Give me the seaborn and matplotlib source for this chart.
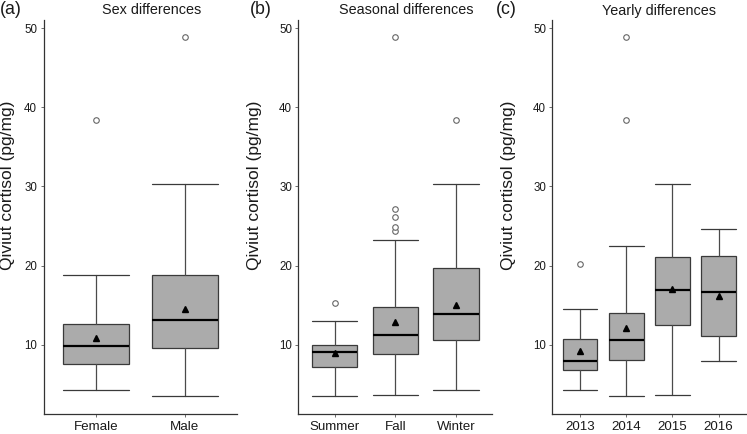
import numpy as np
import matplotlib
matplotlib.use('Agg')
import matplotlib.pyplot as plt
import seaborn as sns

sns.set_style('white')
plt.rcParams['font.family'] = ['Liberation Sans', 'DejaVu Sans']

#%% Data

# (a) sex
sex_groups = ['Female', 'Male']
sex_lo = [4.3, 3.5]
sex_q1 = [7.6, 9.6]
sex_med = [9.8, 13.1]
sex_q3 = [12.65, 18.8]
sex_hi = [18.8, 30.3]
sex_mean = [10.9, 14.5]
sex_out = [[38.4], [48.9]]

# (b) season
season_groups = ['Summer', 'Fall', 'Winter']
season_lo = [3.5, 3.6, 4.3]
season_q1 = [7.2, 8.85, 10.55]
season_med = [9.1, 11.25, 13.85]
season_q3 = [10.0, 14.75, 19.7]
season_hi = [12.95, 23.25, 30.3]
season_mean = [8.95, 12.9, 15.0]
season_out = [[15.25], [24.35, 24.9, 26.2, 27.15, 48.9], [38.4]]

# (c) year
year_groups = ['2013', '2014', '2015', '2016']
year_lo = [4.3, 3.5, 3.6, 7.95]
year_q1 = [6.85, 8.0, 12.55, 11.1]
year_med = [7.9, 10.65, 16.9, 16.6]
year_q3 = [10.75, 14.05, 21.05, 21.25]
year_hi = [14.5, 22.5, 30.3, 24.6]
year_mean = [9.25, 12.1, 17.1, 16.1]
year_out = [[20.15], [38.4, 48.9], [], []]

yticks = [10, 20, 30, 40, 50]


def make_stats(groups, lo, q1, med, q3, hi, mean, out):
    """Builds the list of dicts that Axes.bxp wants."""
    stats = []
    for i, g in enumerate(groups):
        stats.append({'label': g, 'whislo': lo[i], 'q1': q1[i], 'med': med[i],
                      'q3': q3[i], 'whishi': hi[i], 'mean': mean[i],
                      'fliers': np.array(out[i])})
    return stats


def draw_panel(ax, stats):
    n = len(stats)
    ax.bxp(stats, positions=np.arange(1, n + 1), widths=0.75, capwidths=0.75,
           showmeans=True, patch_artist=True,
           boxprops=dict(facecolor='#ababab', edgecolor='#3a3a3a', linewidth=0.9),
           whiskerprops=dict(color='#4a4a4a', linewidth=0.9),
           capprops=dict(color='#3a3a3a', linewidth=0.9),
           medianprops=dict(color='black', linewidth=1.6),
           meanprops=dict(marker='^', markerfacecolor='black', markeredgecolor='black',
                          markersize=5),
           flierprops=dict(marker='o', markerfacecolor='white', markeredgecolor='#666666',
                           markersize=4, markeredgewidth=0.8))
    ax.set_xlim(0.4, n + 0.6)
    ax.set_ylim(1.2, 51.1)
    ax.set_yticks(yticks)
    ax.tick_params(axis='y', labelsize=8.3, length=2.5, width=0.6, color='#555555',
                   labelcolor='#1a1a1a', pad=2, left=True)
    ax.tick_params(axis='x', labelsize=9.6, length=2.5, width=0.6, color='#555555',
                   labelcolor='#1a1a1a', pad=2, bottom=True)
    for side in ['left', 'bottom']:
        ax.spines[side].set_color('#333333')
        ax.spines[side].set_linewidth(0.9)
    sns.despine(ax=ax)


#%% Figure
W, H = 747, 434
fig = plt.figure(figsize=(W / 100, H / 100), dpi=100)

panels = [
    (make_stats(sex_groups, sex_lo, sex_q1, sex_med, sex_q3, sex_hi, sex_mean, sex_out),
     43.5, '(a)', 0, 'Sex differences', 152, 7.5),
    (make_stats(season_groups, season_lo, season_q1, season_med, season_q3, season_hi,
                season_mean, season_out),
     298.3, '(b)', 250, 'Seasonal differences', 406, 254),
    (make_stats(year_groups, year_lo, year_q1, year_med, year_q3, year_hi, year_mean, year_out),
     552.3, '(c)', 496, 'Yearly differences', 659, 508),
]

bottom_px, top_px, width_px = 414.3, 19.5, 194
for stats, left_px, tag, tag_x, title, title_x, ylab_x in panels:
    ax = fig.add_axes([left_px / W, (H - bottom_px) / H, width_px / W,
                       (bottom_px - top_px) / H])
    draw_panel(ax, stats)
    fig.text(tag_x / W, 1 - 10 / H, tag, fontsize=12.8, ha='left', va='center',
             color='#1a1a1a')
    fig.text(title_x / W, 1 - 10.5 / H, title, fontsize=10.4, ha='center', va='center',
             color='#1a1a1a')
    fig.text(ylab_x / W, 1 - 185 / H, 'Qiviut cortisol (pg/mg)', fontsize=12.5,
             rotation=90, ha='center', va='center', color='#1a1a1a')

fig.savefig('out.png', dpi=100)
